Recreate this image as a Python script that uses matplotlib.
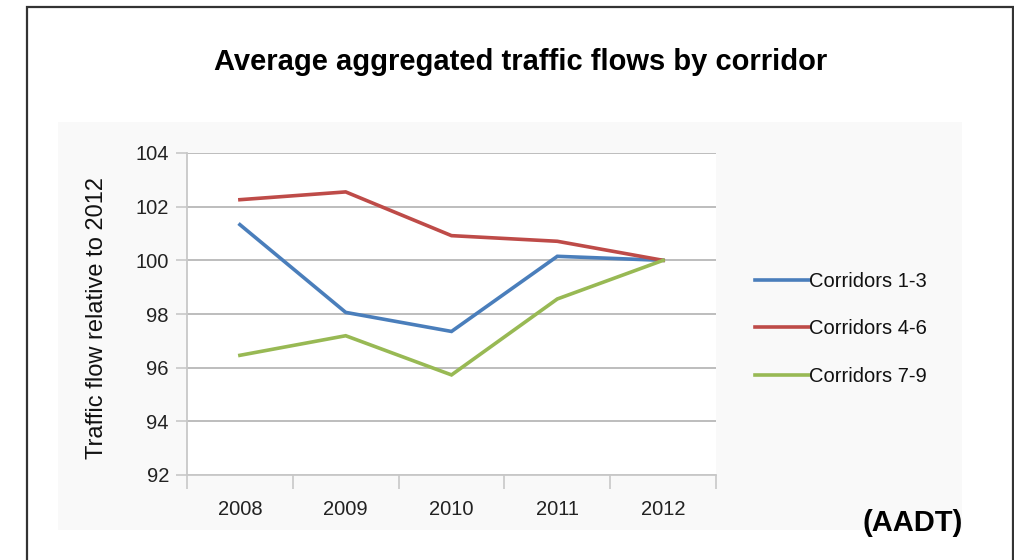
import matplotlib
matplotlib.use("Agg")
import matplotlib.pyplot as plt
from matplotlib.patches import Rectangle

plt.rcParams['font.family'] = ['Liberation Sans', 'DejaVu Sans']

# Data
years = ["2008", "2009", "2010", "2011", "2012"]
corridors_1_3 = [101.33, 98.06, 97.35, 100.15, 100.0]
corridors_4_6 = [102.26, 102.55, 100.92, 100.71, 100.0]
corridors_7_9 = [96.46, 97.19, 95.73, 98.56, 100.0]
series_names = ["Corridors 1-3", "Corridors 4-6", "Corridors 7-9"]
y_ticks = [92, 94, 96, 98, 100, 102, 104]

colors = ["#4a7ebb", "#be4b48", "#98b954"]

W, H = 1014, 560
fig = plt.figure(figsize=(W / 100, H / 100), dpi=100)
fig.patch.set_facecolor("white")

def fx(px):
    return px / W

def fy(py):
    return 1 - py / H

# Outer frame
fig.patches.append(Rectangle((fx(27), fy(600)), fx(1013) - fx(27), fy(7) - fy(600),
                             transform=fig.transFigure, fill=False,
                             edgecolor="#333333", linewidth=1.6, zorder=-2))
# Faint chart panel
fig.patches.append(Rectangle((fx(58), fy(530)), fx(962) - fx(58), fy(122) - fy(530),
                             transform=fig.transFigure, facecolor="#f9f9f9",
                             edgecolor="none", zorder=-2))

ax = fig.add_axes([fx(187), fy(475), fx(716) - fx(187), fy(153) - fy(475)])
ax.set_facecolor("white")

x = list(range(len(years)))
for vals, name, c in zip([corridors_1_3, corridors_4_6, corridors_7_9], series_names, colors):
    ax.plot(x, vals, color=c, linewidth=2.6, label=name, solid_joinstyle="miter", zorder=3)

ax.set_xlim(-0.5, len(years) - 0.5)
ax.set_ylim(92, 104)
ax.set_yticks(y_ticks)
ax.set_yticklabels([str(v) for v in y_ticks])
ax.grid(axis="y", color="#b8b8b8", linewidth=1.3)
ax.set_axisbelow(True)

# Category boundary ticks on the bottom, labels at category centres
ax.set_xticks([i - 0.5 for i in range(len(years) + 1)])
ax.set_xticklabels([])
ax.set_xticks(x, minor=True)
ax.set_xticklabels(years, minor=True)
ax.tick_params(axis="x", which="major", length=10, width=1.2, color="#c8c8c8", direction="out")
ax.tick_params(axis="x", which="minor", length=0, pad=18, labelsize=14.5, labelcolor="#222222")
ax.tick_params(axis="y", length=8, width=1.2, color="#c8c8c8", pad=5, labelsize=14.5, labelcolor="#222222")

for side in ["top", "right"]:
    ax.spines[side].set_visible(False)
ax.spines["left"].set_color("#c8c8c8")
ax.spines["bottom"].set_color("#c8c8c8")
ax.spines["left"].set_linewidth(1.3)
ax.spines["bottom"].set_linewidth(1.3)

fig.text(fx(97), fy(318), "Traffic flow relative to 2012", rotation=90,
         ha="center", va="center", fontsize=17, color="#111111")

fig.text(fx(521), fy(62), "Average aggregated traffic flows by corridor",
         ha="center", va="center", fontsize=21, fontweight="bold", color="black")

fig.text(fx(913), fy(523), "(AADT)", ha="center", va="center",
         fontsize=21, fontweight="bold", color="black")

leg = ax.legend(loc="center left", bbox_to_anchor=(fx(755), fy(329)),
                bbox_transform=fig.transFigure, frameon=False, fontsize=14.5,
                handlelength=2.7, handletextpad=0.0, labelspacing=1.4,
                borderpad=0, borderaxespad=0)
for t in leg.get_texts():
    t.set_color("#111111")

fig.savefig("out.png", dpi=100)
